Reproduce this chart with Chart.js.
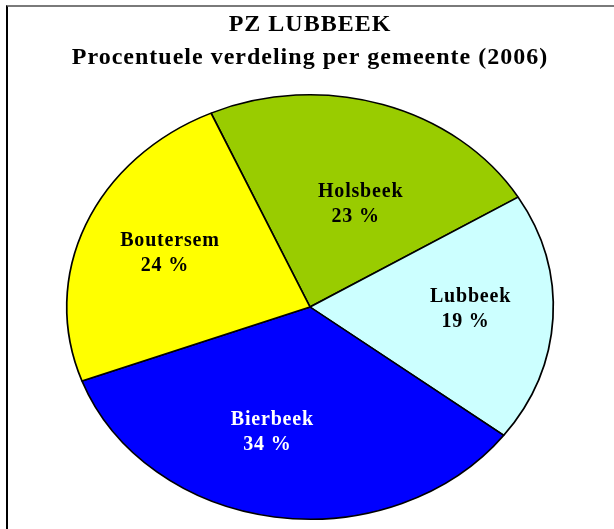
<!DOCTYPE html>
<html>
<head>
<meta charset="utf-8">
<script src="https://cdn.jsdelivr.net/npm/chart.js@4/dist/chart.umd.min.js"></script>
<style>
  body { margin: 0; background: #fff; }
  #wrap { position: relative; width: 614px; height: 529px; }
  #frame { position: absolute; left: 6px; top: 5px; right: 0; bottom: 0;
           border-top: 2px solid #7a7a7a; border-left: 2px solid #000; pointer-events: none; }
</style>
</head>
<body>
<div id="wrap">
  <canvas id="pieChart" width="614" height="529"></canvas>
  <div id="frame"></div>
</div>
<script>
// data
const gemeenten = ['Holsbeek', 'Lubbeek', 'Bierbeek', 'Boutersem'];
const percentages = [23, 19, 34, 24];
const sliceColors = ['#99cc00', '#ccffff', '#0000ff', '#ffff00'];
const labelColors = ['#000', '#000', '#fff', '#000'];

const stretchX = 243 / 212; // pie is drawn as an ellipse in the original

// slightly wide letter spacing like the original export
const spacing = {
    id: 'spacing',
    beforeDraw(chart) {
        chart.ctx.letterSpacing = '1px';
    }
};

// squash the pie into an ellipse
const ellipsePlugin = {
    id: 'ellipse',
    beforeDatasetsDraw(chart) {
        const arc = chart.getDatasetMeta(0).data[0];
        const ctx = chart.ctx;
        ctx.save();
        ctx.translate(arc.x, arc.y);
        ctx.scale(stretchX, 1);
        ctx.translate(-arc.x, -arc.y);
    },
    afterDatasetsDraw(chart) {
        chart.ctx.restore();
    }
};

// name + percentage inside each slice
const sliceLabels = {
    id: 'sliceLabels',
    afterDatasetsDraw(chart) {
        const ctx = chart.ctx;
        const fractions = [0.53, 0.66, 0.61, 0.63];
        const nudge = [0.1, -0.04, 0.11, 0.02];
        chart.getDatasetMeta(0).data.forEach(function(arc, i) {
            const mid = (arc.startAngle + arc.endAngle) / 2 + nudge[i];
            const r = arc.outerRadius * fractions[i];
            const x = arc.x + Math.cos(mid) * r * stretchX;
            const y = arc.y + Math.sin(mid) * r;
            ctx.save();
            ctx.letterSpacing = '0.8px';
            ctx.fillStyle = labelColors[i];
            ctx.font = 'bold 20px "Liberation Serif", "Times New Roman", serif';
            ctx.textAlign = 'center';
            ctx.textBaseline = 'middle';
            ctx.fillText(gemeenten[i], x, y - 12);
            ctx.fillText(percentages[i] + ' %', x - 5, y + 13);
            ctx.restore();
        });
    }
};

const pieCtx = document.getElementById('pieChart').getContext('2d');
const pieChart = new Chart(pieCtx, {
    type: 'pie',
    data: {
        labels: gemeenten,
        datasets: [{
            data: percentages,
            backgroundColor: sliceColors,
            borderColor: '#000',
            borderWidth: 1.5
        }]
    },
    options: {
        responsive: false,
        animation: false,
        rotation: -24,
        layout: {
            padding: { left: 6, right: 0, top: 0, bottom: 9 }
        },
        plugins: {
            legend: { display: false },
            tooltip: { enabled: false },
            title: {
                display: true,
                text: ['PZ LUBBEEK', 'Procentuele verdeling per gemeente (2006)'],
                color: '#000',
                font: { family: '"Liberation Serif", "Times New Roman", serif', size: 24, weight: 'bold', lineHeight: 1.375 },
                padding: { top: 8, bottom: 20 }
            }
        }
    },
    plugins: [spacing, ellipsePlugin, sliceLabels]
});
</script>
</body>
</html>
